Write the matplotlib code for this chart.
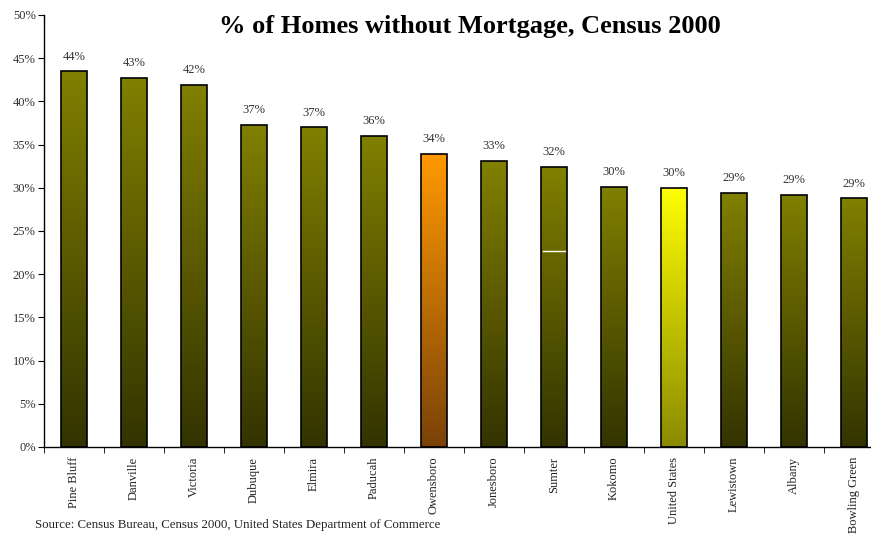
import numpy as np
import matplotlib
matplotlib.use("Agg")
from matplotlib import pyplot as plt
from matplotlib.colors import LinearSegmentedColormap

cities = ["Pine Bluff", "Danville", "Victoria", "Dubuque", "Elmira", "Paducah", "Owensboro",
          "Jonesboro", "Sumter", "Kokomo", "United States", "Lewistown", "Albany", "Bowling Green"]
pct_no_mortgage = [43.5, 42.7, 41.9, 37.3, 37.0, 36.0, 33.9, 33.1, 32.4, 30.1, 30.0, 29.4, 29.2, 28.8]

# gradient colours (top, bottom) per bar
olive = ("#808000", "#333300")
orange = ("#ff9900", "#7a4208")
yellow = ("#ffff00", "#8a8a00")
highlight = {"Owensboro": orange, "United States": yellow}

plt.rcParams["font.family"] = ["Liberation Serif", "DejaVu Serif"]

fig = plt.figure(figsize=(8.71, 5.35), dpi=100)
# the plot runs a little past the right edge of the figure
ax = fig.add_axes([0.0505, 0.1645, 0.9644, 0.8075])

x = np.arange(len(cities))
width = 0.42
bars = ax.bar(x, pct_no_mortgage, width=width, color="none", edgecolor="black", linewidth=1.2, zorder=3)

grad = np.linspace(1, 0, 256).reshape(-1, 1)
for bar, city in zip(bars, cities):
    top, bottom = highlight.get(city, olive)
    cmap = LinearSegmentedColormap.from_list(city, [bottom, top])
    x0, h = bar.get_x(), bar.get_height()
    im = ax.imshow(grad, cmap=cmap, aspect="auto", extent=[x0, x0 + width, 0, h], zorder=2)
    im.set_clip_path(bar)
    ax.text(bar.get_x() + width / 2, h + 1.0, f"{h:.0f}%", ha="center", va="bottom",
            fontsize=9, color="#333333")

# stray white line on the Sumter bar
i = cities.index("Sumter")
ax.plot([i - width / 2 + 0.02, i + width / 2 - 0.02], [22.7, 22.7], color="white", lw=1, zorder=4)

ax.set_xlim(-0.5, len(cities) - 0.5)
ax.set_ylim(0, 50)
ax.set_yticks(np.arange(0, 51, 5))
ax.set_yticklabels([f"{v}%" for v in range(0, 51, 5)], fontsize=9, color="#333333")
ax.set_xticks(x)
ax.set_xticklabels(cities, rotation=90, fontsize=9, color="#222222")
ax.tick_params(axis="x", length=0, pad=7)
ax.set_xticks(np.arange(-0.5, len(cities), 1), minor=True)
ax.tick_params(axis="x", which="minor", length=4, direction="out")
ax.tick_params(axis="y", length=4, direction="out", pad=2)

for side in ("top", "right"):
    ax.spines[side].set_visible(False)
for side in ("left", "bottom"):
    ax.spines[side].set_linewidth(1.0)

fig.text(0.54, 0.951, "% of Homes without Mortgage, Census 2000", ha="center", va="center",
         fontsize=19, fontweight="bold")
fig.text(0.04, 0.008, "Source: Census Bureau, Census 2000, United States Department of Commerce",
         ha="left", va="bottom", fontsize=9.3, color="#222222")

fig.savefig("out.png", dpi=100)
